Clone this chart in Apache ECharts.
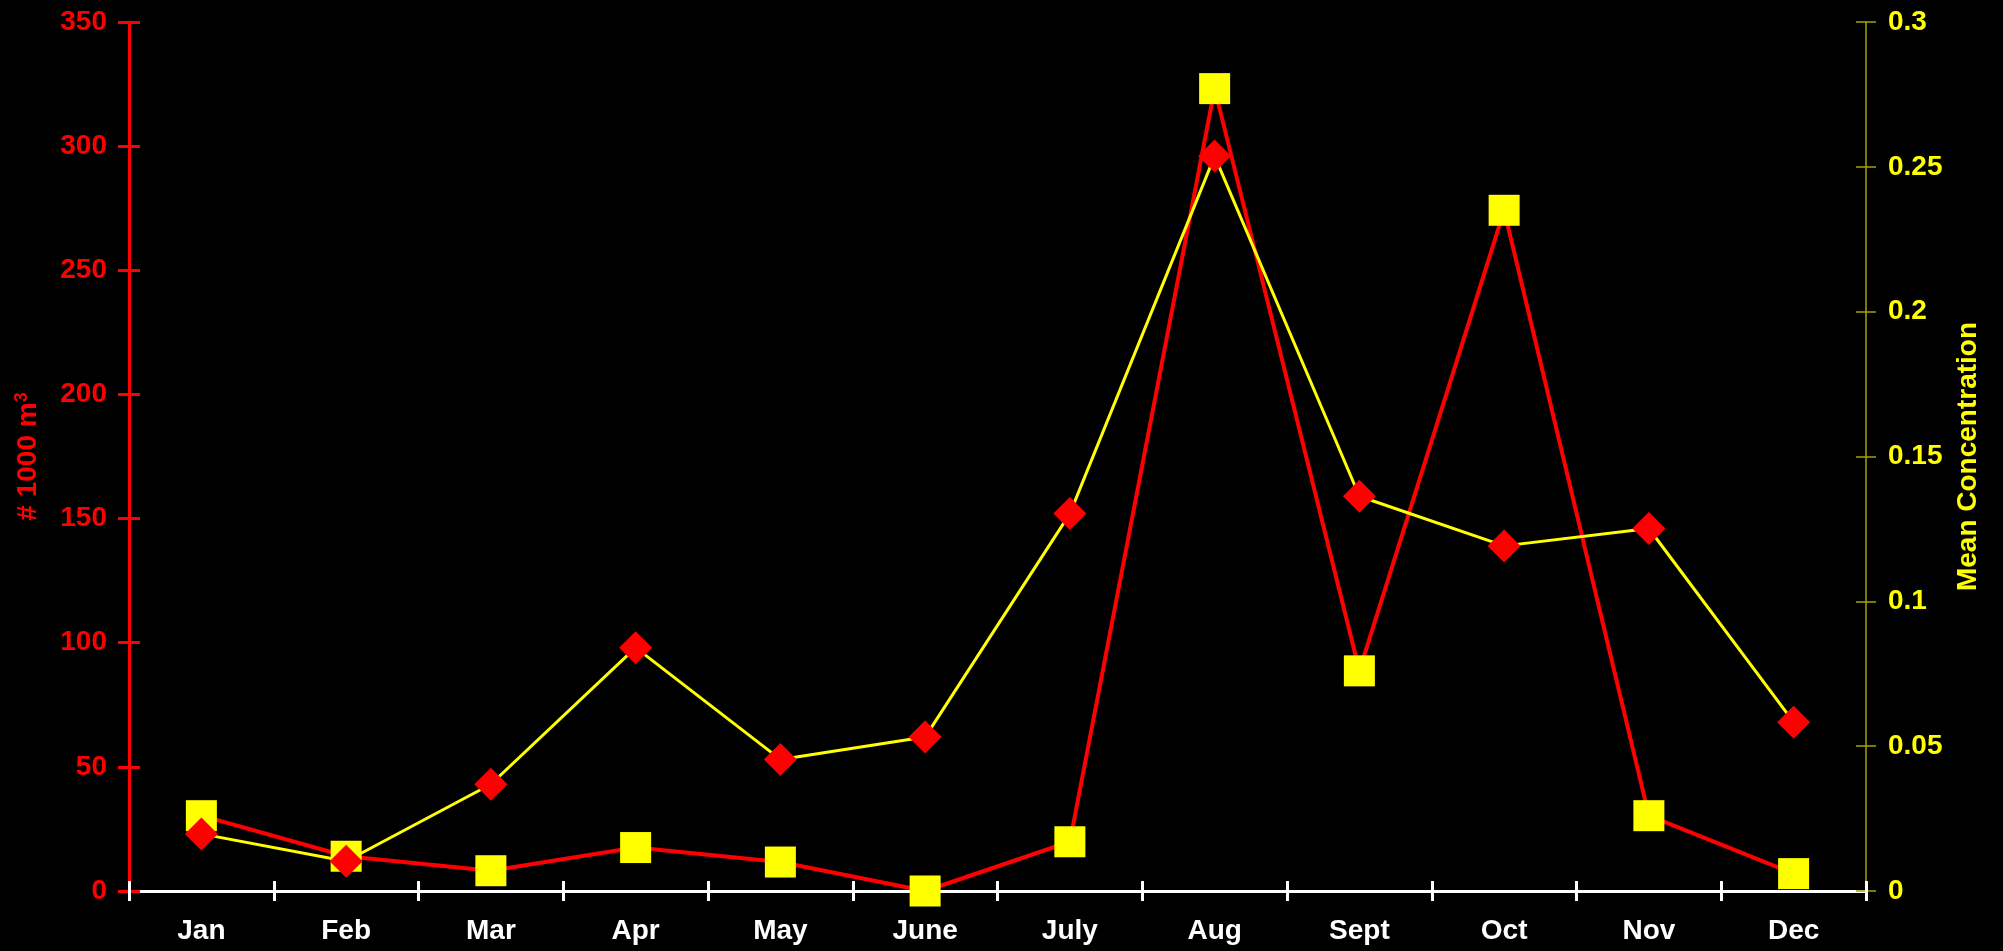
<!DOCTYPE html>
<html>
<head>
<meta charset="utf-8">
<script src="https://cdn.jsdelivr.net/npm/echarts@6/dist/echarts.min.js"></script>
<style>
html,body{margin:0;padding:0;background:#000;}
#chart{width:2003px;height:951px;}
</style>
</head>
<body>
<div id="chart"></div>
<script>
const months = ['Jan','Feb','Mar','Apr','May','June','July','Aug','Sept','Oct','Nov','Dec'];
const volume = [23, 12, 43, 98, 53, 62, 152, 296, 159, 139, 146, 68];
const concentration = [0.026, 0.012, 0.007, 0.015, 0.010, 0, 0.017, 0.277, 0.076, 0.235, 0.026, 0.006];

const FONT = 'Liberation Sans, Arial, sans-serif';
const chart = echarts.init(document.getElementById('chart'));

const leftAxisBase = { type: 'value', position: 'left', min: 0, max: 350, interval: 50 };
const rightAxisBase = { type: 'value', position: 'right', min: 0, max: 0.3, interval: 0.05 };

chart.setOption({
  backgroundColor: '#000000',
  animation: false,
  grid: { left: 129, right: 137, top: 22, bottom: 60, containLabel: false },
  xAxis: [
    {
      type: 'category', data: months, boundaryGap: true, position: 'bottom',
      axisLine: { show: true, lineStyle: { color: '#ffffff', width: 3 } },
      axisTick: { show: true, inside: false, length: 10, lineStyle: { color: '#ffffff', width: 3 } },
      axisLabel: { color: '#ffffff', fontFamily: FONT, fontWeight: 'bold', fontSize: 28, margin: 26 },
      splitLine: { show: false }
    },
    {
      type: 'category', data: months, boundaryGap: true, position: 'bottom',
      axisLine: { show: false },
      axisTick: { show: true, inside: true, length: 10, lineStyle: { color: '#ffffff', width: 3 } },
      axisLabel: { show: false },
      splitLine: { show: false }
    }
  ],
  yAxis: [
    Object.assign({}, leftAxisBase, {
      name: '# 1000 m{sup|3}',
      nameLocation: 'middle', nameRotate: 90, nameGap: 86,
      nameTextStyle: { color: '#ff0000', fontFamily: FONT, fontWeight: 'bold', fontSize: 28, lineHeight: 30,
        rich: { sup: { color: '#ff0000', fontFamily: FONT, fontWeight: 'bold', fontSize: 18, verticalAlign: 'top', lineHeight: 20 } } },
      axisLine: { show: true, lineStyle: { color: '#ff0000', width: 3 } },
      axisTick: { show: true, inside: false, length: 11, lineStyle: { color: '#ff0000', width: 3 } },
      axisLabel: { color: '#ff0000', fontFamily: FONT, fontWeight: 'bold', fontSize: 28, margin: 22 },
      splitLine: { show: false }
    }),
    Object.assign({}, rightAxisBase, {
      name: 'Mean Concentration',
      nameLocation: 'middle', nameRotate: 90, nameGap: 88,
      nameTextStyle: { color: '#ffff00', fontFamily: FONT, fontWeight: 'bold', fontSize: 28 },
      axisLine: { show: true, lineStyle: { color: '#a3a300', width: 1.5 } },
      axisTick: { show: true, inside: false, length: 10, lineStyle: { color: '#a3a300', width: 1.5 } },
      axisLabel: { color: '#ffff00', fontFamily: FONT, fontWeight: 'bold', fontSize: 28, margin: 22 },
      splitLine: { show: false }
    }),
    Object.assign({}, leftAxisBase, {
      axisLine: { show: false },
      axisTick: { show: true, inside: true, length: 11, lineStyle: { color: '#ff0000', width: 3 } },
      axisLabel: { show: false },
      splitLine: { show: false }
    }),
    Object.assign({}, rightAxisBase, {
      axisLine: { show: false },
      axisTick: { show: true, inside: true, length: 10, lineStyle: { color: '#a3a300', width: 1.5 } },
      axisLabel: { show: false },
      splitLine: { show: false }
    })
  ],
  series: [
    {
      name: 'Mean Concentration', type: 'line', xAxisIndex: 0, yAxisIndex: 1,
      data: concentration,
      symbol: 'rect', symbolSize: 31,
      lineStyle: { color: '#ff0000', width: 4 },
      itemStyle: { color: '#ffff00', borderWidth: 0 },
      z: 2
    },
    {
      name: '# 1000 m3', type: 'line', xAxisIndex: 0, yAxisIndex: 0,
      data: volume,
      symbol: 'diamond', symbolSize: [33, 33],
      lineStyle: { color: '#ffff00', width: 3 },
      itemStyle: { color: '#ff0000', borderWidth: 0 },
      z: 3
    }
  ]
});
</script>
</body>
</html>
